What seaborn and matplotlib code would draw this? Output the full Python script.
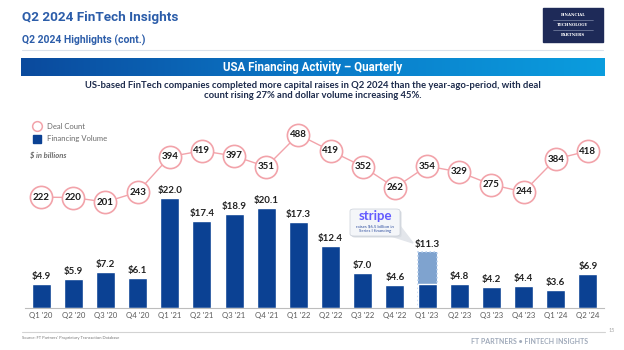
import numpy as np
import matplotlib.pyplot as plt
import matplotlib.patches as mpatches
from matplotlib.lines import Line2D
from matplotlib.colors import LinearSegmentedColormap
import seaborn as sns

# ---- data ----
quarters = ["Q1 '20", "Q2 '20", "Q3 '20", "Q4 '20",
            "Q1 '21", "Q2 '21", "Q3 '21", "Q4 '21",
            "Q1 '22", "Q2 '22", "Q3 '22", "Q4 '22",
            "Q1 '23", "Q2 '23", "Q3 '23", "Q4 '23",
            "Q1 '24", "Q2 '24"]
volume = [4.9, 5.9, 7.2, 6.1, 22.0, 17.4, 18.9, 20.1, 17.3, 12.4,
          7.0, 4.6, 11.3, 4.8, 4.2, 4.4, 3.6, 6.9]
deals = [222, 220, 201, 243, 394, 419, 397, 351, 488, 419,
         352, 262, 354, 329, 275, 244, 384, 418]
stripe_quarter = "Q1 '23"
stripe_raise = 6.5

NAVY = '#0B4193'
LIGHT = '#7FA3CF'
PINK = '#F2A3AA'
TITLE_BLUE = '#2C5DA9'

W, H = 624, 350


def px(x, y):
    # pixel position (from top-left) -> figure fraction
    return x / W, 1 - y / H


sns.set_theme(style='white')
plt.rcParams['font.family'] = ['Lato', 'DejaVu Sans']

fig = plt.figure(figsize=(6.24, 3.5), dpi=100)

# ---- header ----
fig.text(*px(22.5, 17), 'Q2 2024 FinTech Insights', fontsize=9.7, fontweight='bold',
         color=TITLE_BLUE, family=['Roboto', 'DejaVu Sans'], va='center')
fig.text(*px(22.5, 40), 'Q2 2024 Highlights (cont.)', fontsize=7.5, fontweight='bold',
         color=TITLE_BLUE, family=['Roboto', 'DejaVu Sans'], va='center')
fig.add_artist(Line2D([22 / W, 603 / W], [1 - 50 / H] * 2, color='#DCE2EA', lw=0.8))

# logo
x0, y0 = px(543, 41.7)
fig.add_artist(mpatches.Rectangle((x0, y0), 60 / W, 33.4 / H, color='#1E2A58'))
for yy, word in [(15, 'FINANCIAL'), (25, 'TECHNOLOGY'), (35, 'PARTNERS')]:
    fig.text(*px(573, yy), word, fontsize=2.8, fontweight='bold', color='white',
             family=['DejaVu Serif'], ha='center', va='center')
for yy in (20, 30):
    fig.add_artist(Line2D([553 / W, 593 / W], [1 - yy / H] * 2, color='#9AA3C0', lw=0.4))

# banner with gradient
bax = fig.add_axes([20.7 / W, 1 - 75.7 / H, (604 - 20.7) / W, 17.4 / H])
cmap = LinearSegmentedColormap.from_list('banner', ['#0A4A9D', '#0A79C8', '#0A9DDE'])
bax.imshow(np.linspace(0, 1, 256)[None, :], aspect='auto', cmap=cmap, extent=[0, 1, 0, 1])
bax.set_axis_off()
bax.text(0.5, 0.5, 'USA Financing Activity \u2013 Quarterly', color='white', fontsize=8.3,
         fontweight='bold', family=['Roboto', 'DejaVu Sans'], ha='center', va='center',
         transform=bax.transAxes)

fig.text(*px(313, 85.5), 'US-based FinTech companies completed more capital raises in Q2 2024 '
         'than the year-ago-period, with deal', fontsize=6.85, fontweight='bold', color='#1D2B4C',
         ha='center', va='center')
fig.text(*px(313, 95.5), 'count rising 27% and dollar volume increasing 45%.', fontsize=6.85,
         fontweight='bold', color='#1D2B4C', ha='center', va='center')

# ---- chart ----
ax = fig.add_axes([25 / W, 42 / H, 579 / W, 188 / H])
sns.barplot(x=quarters, y=volume, color=NAVY, saturation=1, width=0.59, ax=ax)

si = quarters.index(stripe_quarter)
sp = ax.patches[si]
sp.set_facecolor(LIGHT)
sp.set_edgecolor('#B5CDEB')
sp.set_linestyle(':')
sp.set_linewidth(1.1)
ax.bar(si, volume[si] - stripe_raise, width=0.59, color=NAVY, zorder=3)

for i, v in enumerate(volume):
    ax.annotate(f'${v:.1f}', (i, v), xytext=(0, 2), textcoords='offset points',
                ha='center', va='bottom', fontsize=7, fontweight='bold', color='#222222')

ax.set_xlim(-0.5, len(quarters) - 0.5)
ax.set_ylim(0, 37.6)
ax.set_yticks([])
ax.set_xlabel('')
ax.set_ylabel('')
ax.tick_params(axis='x', length=0, pad=3, labelsize=5.6, labelcolor='#5A5A5A')
for s in ['top', 'right', 'left']:
    ax.spines[s].set_visible(False)
ax.spines['bottom'].set_color('#BDBDBD')
ax.spines['bottom'].set_linewidth(0.8)

ax2 = ax.twinx()
sns.lineplot(x=np.arange(len(deals)), y=deals, sort=False, ax=ax2, color=PINK, lw=1,
             marker='o', markersize=16, markerfacecolor='white', markeredgecolor=PINK,
             markeredgewidth=1.2)
for i, v in enumerate(deals):
    ax2.text(i, v, f'{v}', ha='center', va='center', fontsize=7, fontweight='bold',
             color='#1A1A1A', zorder=5)
ax2.set_ylim(-250, 550)
ax2.set_yticks([])
ax2.set_ylabel('')
for s in ax2.spines.values():
    s.set_visible(False)

# legend
handles = [Line2D([], [], ls='', marker='o', markersize=7, markerfacecolor='white',
                  markeredgecolor=PINK, markeredgewidth=1.1),
           Line2D([], [], ls='', marker='s', markersize=6, color=NAVY)]
ax.legend(handles, ['Deal Count', 'Financing Volume'], loc='upper left',
          bbox_to_anchor=px(30, 119.5), bbox_transform=fig.transFigure, frameon=False,
          fontsize=5.5, labelcolor='#6A6A6A', handlelength=1, handletextpad=0.8,
          labelspacing=0.75, borderaxespad=0)
fig.text(*px(30, 155), '$ in billions', fontsize=5.5, style='italic', fontweight='bold',
         color='#6A6A6A', va='center')

# stripe callout
fig.add_artist(mpatches.Polygon([px(391, 236), px(400, 226), px(413, 243)], closed=True,
                                color='#E3E6EB', zorder=1))
bx, by = px(350, 236)
fig.add_artist(mpatches.FancyBboxPatch((bx + 1.5 / W, by - 1.5 / H), 50 / W, 27 / H,
                                       boxstyle='round,pad=0,rounding_size=0.006',
                                       fc='#D8DCE2', ec='none'))
fig.add_artist(mpatches.FancyBboxPatch((bx, by), 50 / W, 27 / H,
                                       boxstyle='round,pad=0,rounding_size=0.006',
                                       fc='#F4F6F9', ec='#C9CFD8', lw=0.5))
fig.text(*px(375, 216.5), 'stripe', fontsize=9.5, fontweight='bold', color='#635BFF',
         ha='center', va='center')
fig.text(*px(375, 226), f'raises ${stripe_raise} billion in', fontsize=3.2, color='#2F4F9F',
         ha='center', va='center')
fig.text(*px(375, 231), 'Series I financing', fontsize=3.2, color='#2F4F9F',
         ha='center', va='center')

# ---- footer ----
fig.add_artist(Line2D([22 / W, 605 / W], [1 - 332 / H] * 2, color='#D3D3D3', lw=0.8))
fig.text(*px(22, 337.5), "Source: FT Partners' Proprietary Transaction Database", fontsize=3,
         color='#777777', va='center')
fig.text(*px(612, 331), '15', fontsize=4, color='#AAAAAA', ha='center', va='center')
fig.text(*px(588, 342), 'FT PARTNERS \u2022 FINTECH INSIGHTS', fontsize=5, fontweight='bold',
         color='#A0AABA', ha='right', va='center')

fig.savefig('out.png', dpi=100)
